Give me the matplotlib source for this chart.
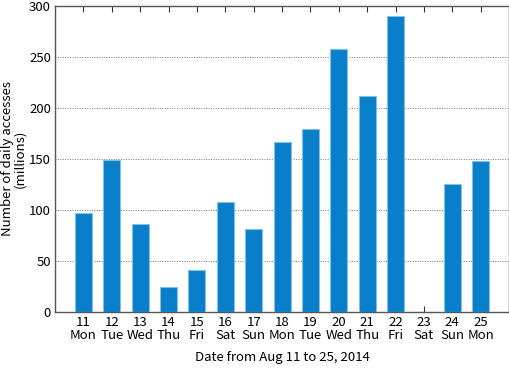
import matplotlib
matplotlib.use("Agg")
import matplotlib.pyplot as plt

# datos
dias = [11, 12, 13, 14, 15, 16, 17, 18, 19, 20, 21, 22, 23, 24, 25]
nombres = ["Mon", "Tue", "Wed", "Thu", "Fri", "Sat", "Sun", "Mon",
           "Tue", "Wed", "Thu", "Fri", "Sat", "Sun", "Mon"]
accesos = [97, 149, 86, 25, 41, 108, 81, 167, 179, 258, 212, 290, 0, 125, 148]

plt.rcParams['font.family'] = ['Noto Sans CJK JP', 'DejaVu Sans']
plt.rcParams['font.size'] = 9.5

fig = plt.figure(figsize=(5.1, 3.68), dpi=100)
ax = fig.add_axes([0.108, 0.152, 0.89, 0.832])

ax.bar(dias, accesos, width=0.6, color="#0a7fc9", edgecolor="#7fc0ea",
       linewidth=0.8, zorder=3)

ax.set_xlim(10, 26)
ax.set_ylim(0, 300)
ax.set_xticks(dias)
ax.set_xticklabels([f"{d}\n{n}" for d, n in zip(dias, nombres)], linespacing=0.95)
ax.set_yticks(range(0, 301, 50))

ax.tick_params(axis='x', direction='in', top=True, length=4, width=0.8,
               colors="#333333", labelcolor="black", pad=3)
ax.tick_params(axis='y', length=0, pad=3)

ax.yaxis.grid(True, linestyle=(0, (1, 1.5)), color="#777777", linewidth=0.7, zorder=0)
for s in ax.spines.values():
    s.set_color("#555555")
    s.set_linewidth(1.0)

ax.set_xlabel("Date from Aug 11 to 25, 2014", labelpad=7)
ax.set_ylabel("Number of daily accesses\n(millions)", linespacing=0.95, labelpad=2)

plt.savefig("out.png", dpi=100)
